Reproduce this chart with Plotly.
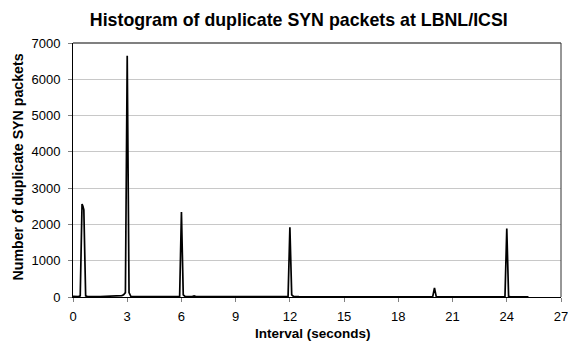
import plotly.graph_objects as go

# Interval (seconds) and count of duplicate SYN packets
interval = [0.0, 0.3, 0.4, 0.5, 0.55, 0.6, 0.7, 0.8, 1.5, 2.0, 2.7, 2.8, 2.9, 3.0, 3.1, 3.2, 3.5,
            5.9, 6.0, 6.1, 6.2, 6.6, 6.7, 6.8, 11.9, 12.0, 12.1, 12.2, 12.5,
            19.9, 20.0, 20.1, 23.9, 24.0, 24.1, 24.2, 25.2]
packets = [20, 10, 30, 2560, 2500, 2400, 30, 10, 10, 20, 40, 60, 120, 6650, 120, 20, 10,
           20, 2340, 60, 15, 10, 30, 10, 10, 1920, 60, 15, 10,
           5, 250, 5, 5, 1890, 20, 5, 5]

x_ticks = [0, 3, 6, 9, 12, 15, 18, 21, 24, 27]
y_ticks = [0, 1000, 2000, 3000, 4000, 5000, 6000, 7000]

fig = go.Figure()
fig.add_trace(go.Scatter(x=interval, y=packets, mode="lines",
                         line=dict(color="black", width=1.7), showlegend=False))

font = "Liberation Sans, Arial, sans-serif"
fig.update_layout(
    width=568, height=342,
    margin=dict(l=73, r=7, t=43, b=45),
    paper_bgcolor="white", plot_bgcolor="white",
    title=dict(text="<b>Histogram of duplicate SYN packets at LBNL/ICSI</b>",
               x=0.526, xanchor="center", y=0.9415, yanchor="middle",
               font=dict(family=font, size=17.8, color="black")),
    font=dict(family=font, size=13, color="black"),
)
fig.update_xaxes(range=[0, 27], tickvals=x_ticks, ticks="outside", ticklen=4,
                 tickcolor="#808080", showline=True, linecolor="black", linewidth=1,
                 showgrid=False, zeroline=False, ticklabelstandoff=3,
                 ticklabeloverflow="allow", automargin=False,
                 tickfont=dict(size=13))
fig.update_yaxes(range=[0, 7000], tickvals=y_ticks, ticks="outside", ticklen=4,
                 tickcolor="#808080", showline=True, linecolor="black", linewidth=1,
                 showgrid=True, gridcolor="#c8c8c8", gridwidth=1, zeroline=False,
                 ticklabelstandoff=5, automargin=False,
                 tickfont=dict(size=13))
# axis titles
fig.add_annotation(text="<b>Interval (seconds)</b>", xref="paper", yref="paper",
                   x=0.492, y=-0.1437, xanchor="center", yanchor="middle",
                   showarrow=False, font=dict(family=font, size=13.5, color="black"))
fig.add_annotation(text="<b>Number of duplicate SYN packets</b>", xref="paper", yref="paper",
                   x=-0.1127, y=0.51, xanchor="center", yanchor="middle", textangle=-90,
                   showarrow=False, font=dict(family=font, size=14.2, color="black"))
# plot-area frame (top and right edges)
fig.add_shape(type="line", xref="paper", yref="paper", x0=0, x1=1, y0=1, y1=1,
              line=dict(color="#808080", width=2))
fig.add_shape(type="line", xref="paper", yref="paper", x0=1, x1=1, y0=0, y1=1,
              line=dict(color="#303030", width=1))
fig.write_html("out.html")
